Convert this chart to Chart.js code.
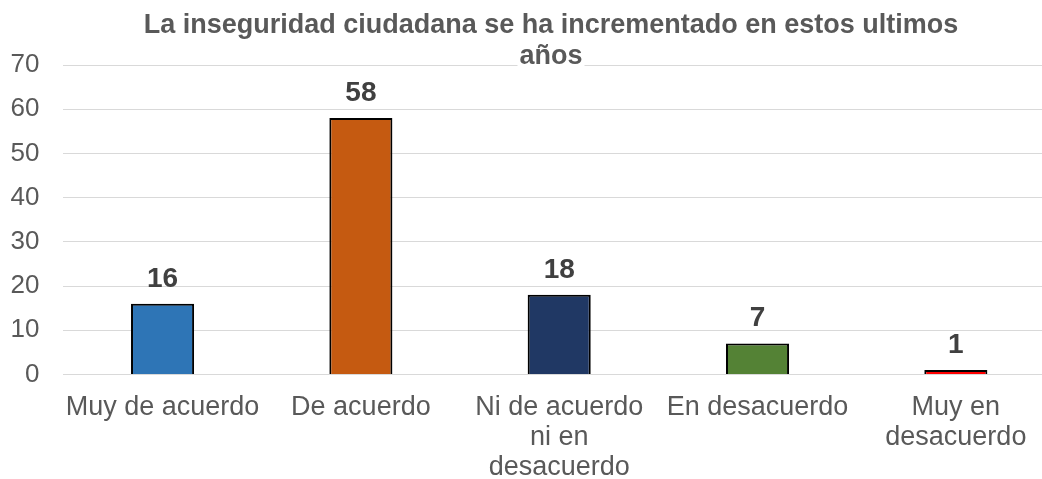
<!DOCTYPE html>
<html>
<head>
<meta charset="utf-8">
<script src="https://cdn.jsdelivr.net/npm/chart.js@4.4.1/dist/chart.umd.min.js"></script>
<style>
html, body { margin: 0; padding: 0; background: #fff; overflow: hidden; }
</style>
</head>
<body>
<canvas id="grafico_inseguridad" width="1056" height="479"></canvas>
<script>
// datos del grafico
const titulo = ['La inseguridad ciudadana se ha incrementado en estos ultimos', 'años']
const categorias = ['Muy de acuerdo', 'De acuerdo', ['Ni de acuerdo', 'ni en', 'desacuerdo'], 'En desacuerdo', ['Muy en', 'desacuerdo']]
const valores = [16, 58, 18, 7, 1]
const colores = ['#2E75B6', '#C55A11', '#203864', '#548235', '#FF0000']
const ejeMin = 0
const ejeMax = 70
const ejePaso = 10

const fuente = '"Liberation Sans", Arial, sans-serif'

// etiquetas con el valor encima de cada barra
const etiquetasValor = {
    id: 'etiquetasValor',
    afterDatasetsDraw(chart) {
        const ctx = chart.ctx
        const meta = chart.getDatasetMeta(0)
        ctx.save()
        ctx.font = 'bold 28px ' + fuente
        ctx.fillStyle = '#404040'
        ctx.textAlign = 'center'
        ctx.textBaseline = 'alphabetic'
        meta.data.forEach((bar, i) => {
            ctx.fillText(valores[i], bar.x, bar.y - 17)
        })
        ctx.restore()
    }
}

// titulo dibujado encima del area del grafico (se superpone como en el original)
const tituloGrafico = {
    id: 'tituloGrafico',
    afterDraw(chart) {
        const ctx = chart.ctx
        const cx = 551
        ctx.save()
        ctx.font = 'bold 27px ' + fuente
        ctx.textAlign = 'center'
        ctx.textBaseline = 'alphabetic'
        // la segunda linea tapa la linea de 70
        const w2 = ctx.measureText(titulo[1]).width
        ctx.fillStyle = '#fff'
        ctx.fillRect(cx - w2 / 2 - 2, 60, w2 + 4, 10)
        ctx.fillStyle = '#595959'
        ctx.fillText(titulo[0], cx, 33)
        ctx.fillText(titulo[1], cx, 64)
        ctx.restore()
    }
}

const ctx = document.getElementById('grafico_inseguridad').getContext('2d')

const data = {
    labels: categorias,
    datasets: [{
        data: valores,
        backgroundColor: colores,
        borderColor: '#000000',
        borderWidth: 2,
        barPercentage: 0.318,
        categoryPercentage: 1
    }]
}

const options = {
    responsive: false,
    animation: false,
    layout: {
        padding: { left: 10, right: 1, top: 65, bottom: 0 }
    },
    scales: {
        x: {
            grid: { display: false, drawTicks: false },
            border: { display: true, color: '#D9D9D9', width: 1 },
            ticks: {
                color: '#595959',
                font: { size: 27, family: fuente, lineHeight: 1.11 },
                padding: 18,
                maxRotation: 0,
                autoSkip: false
            },
            afterFit(scale) {
                scale.height = 104.6
                scale.paddingLeft = 0
                scale.paddingRight = 0
            }
        },
        y: {
            min: ejeMin,
            max: ejeMax,
            border: { display: false },
            grid: { color: '#D9D9D9', lineWidth: 1, drawTicks: false },
            ticks: {
                stepSize: ejePaso,
                color: '#595959',
                font: { size: 26, family: fuente },
                padding: 24
            },
            afterFit(scale) {
                scale.width = 53.4
            }
        }
    },
    plugins: {
        legend: { display: false },
        title: { display: false },
        tooltip: { enabled: false }
    }
}

new Chart(ctx, { type: 'bar', data, options, plugins: [etiquetasValor, tituloGrafico] })
</script>
</body>
</html>
